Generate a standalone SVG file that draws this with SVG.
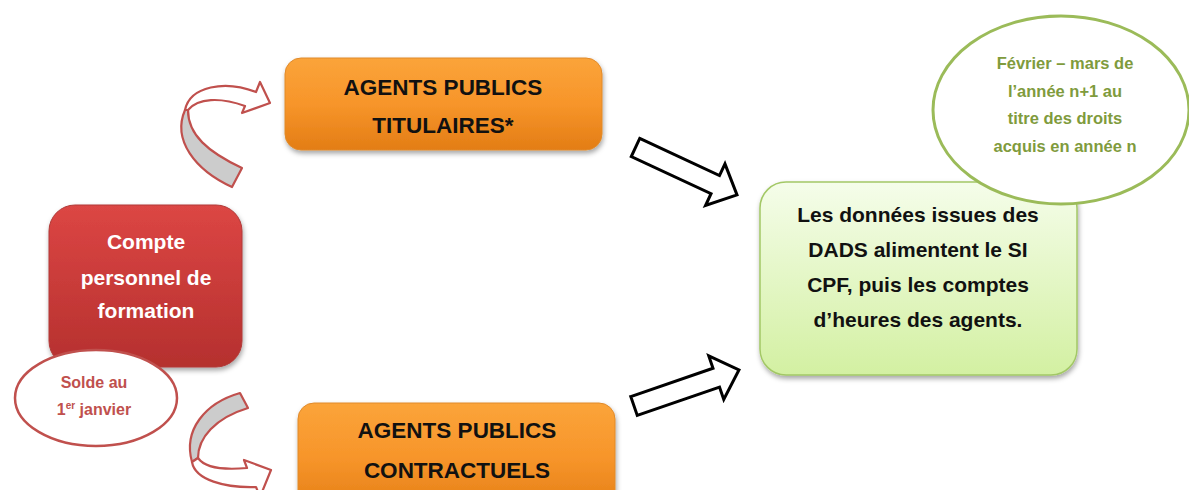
<svg xmlns="http://www.w3.org/2000/svg" width="1189" height="490" viewBox="0 0 1189 490">
<defs>
<linearGradient id="gRed" x1="0" y1="0" x2="0" y2="1"><stop offset="0" stop-color="#dc4644"/><stop offset="1" stop-color="#b5302e"/></linearGradient>
<linearGradient id="gOrange" x1="0" y1="0" x2="0" y2="1"><stop offset="0" stop-color="#fba43a"/><stop offset="0.5" stop-color="#f7952a"/><stop offset="1" stop-color="#e37d15"/></linearGradient>
<linearGradient id="gGreen" x1="0" y1="0" x2="0" y2="1"><stop offset="0" stop-color="#f5fdea"/><stop offset="1" stop-color="#d3f0a2"/></linearGradient>
<filter id="sh" x="-10%" y="-10%" width="120%" height="130%"><feDropShadow dx="1" dy="3" stdDeviation="2.5" flood-color="#000" flood-opacity="0.35"/></filter>
</defs>
<style>
.t{font-family:"Liberation Sans",Arial,sans-serif;font-weight:bold;text-anchor:middle}
.wt{fill:#ffffff;font-size:21px}
.bk{fill:#111111;font-size:22.5px}
.gt{fill:#111111;font-size:21px}
.ot{fill:#7f9b3d;font-size:16.5px}
.rt{fill:#c0504d;font-size:16px}
.curve{stroke:#c0504d;stroke-width:2.2;stroke-linejoin:round}
.block{fill:#ffffff;stroke:#000000;stroke-width:3;stroke-linejoin:miter}
</style>
<rect width="1189" height="490" fill="#ffffff"/>
<g id="connectors">
<g id="curve-top">
<path class="curve" fill="#cccccc" d="M185,110 C172,140 195,170 232,187 L242,168 C208,152 188,135 188,110 Z"/>
<path class="curve" fill="#ffffff" d="M185,110 C190,86 225,80 256,92 L260,82 L270,103 L242,113 L245,106 C220,97 198,98 188,110 Z"/>
</g>
<g id="curve-bottom">
<path class="curve" fill="#cccccc" d="M240,393 L248,408 C215,418 198,438 198,458 L192,462 C183,430 205,403 240,393 Z"/>
<path class="curve" fill="#ffffff" d="M192,462 C195,480 225,488 256,487 L260,497 L271,470 L244,460 L247,468 C225,470 205,468 198,458 Z"/>
</g>
<path class="block" transform="translate(635.5,147.5) rotate(25)" d="M0,-10 L88,-10 L88,-23 L112,0 L88,23 L88,10 L0,10 Z"/>
<path class="block" transform="translate(634,406) rotate(-19)" d="M0,-10 L87,-10 L87,-23 L111,0 L87,23 L87,10 L0,10 Z"/>
</g>
<g id="node-cpf">
<rect x="49" y="205" width="193" height="162" rx="26" fill="url(#gRed)" stroke="#b03a38" stroke-width="1" filter="url(#sh)"/>
<text class="t wt" x="146" y="249">Compte</text>
<text class="t wt" x="146" y="285">personnel de</text>
<text class="t wt" x="146" y="318">formation</text>
</g>
<g id="node-solde">
<ellipse cx="96" cy="398" rx="81" ry="48" fill="#ffffff" stroke="#c0504d" stroke-width="2.5"/>
<text class="t rt" x="94" y="388">Solde au</text>
<text class="t rt" x="94" y="415">1<tspan font-size="10" dy="-6">er</tspan><tspan dy="6"> janvier</tspan></text>
</g>
<g id="node-titulaires">
<rect x="285" y="58" width="317" height="92" rx="16" fill="url(#gOrange)" stroke="#e08a2a" stroke-width="1" filter="url(#sh)"/>
<text class="t bk" x="443" y="95">AGENTS PUBLICS</text>
<text class="t bk" x="443" y="133">TITULAIRES*</text>
</g>
<g id="node-contractuels">
<rect x="298" y="403" width="317" height="110" rx="16" fill="url(#gOrange)" stroke="#e08a2a" stroke-width="1" filter="url(#sh)"/>
<text class="t bk" x="457" y="438">AGENTS PUBLICS</text>
<text class="t bk" x="457" y="478">CONTRACTUELS</text>
</g>
<g id="node-dads">
<rect x="760" y="182" width="317" height="193" rx="26" fill="url(#gGreen)" stroke="#a3c866" stroke-width="1.5" filter="url(#sh)"/>
<text class="t gt" x="918" y="222">Les données issues des</text>
<text class="t gt" x="918" y="257">DADS alimentent le SI</text>
<text class="t gt" x="918" y="292">CPF, puis les comptes</text>
<text class="t gt" x="918" y="327">d’heures des agents.</text>
</g>
<g id="node-date">
<ellipse cx="1061" cy="110" rx="128" ry="94" fill="#ffffff" stroke="#9bbb59" stroke-width="3"/>
<text class="t ot" x="1065" y="69">Février – mars de</text>
<text class="t ot" x="1065" y="97">l’année n+1 au</text>
<text class="t ot" x="1065" y="124">titre des droits</text>
<text class="t ot" x="1065" y="152">acquis en année n</text>
</g>
</svg>
